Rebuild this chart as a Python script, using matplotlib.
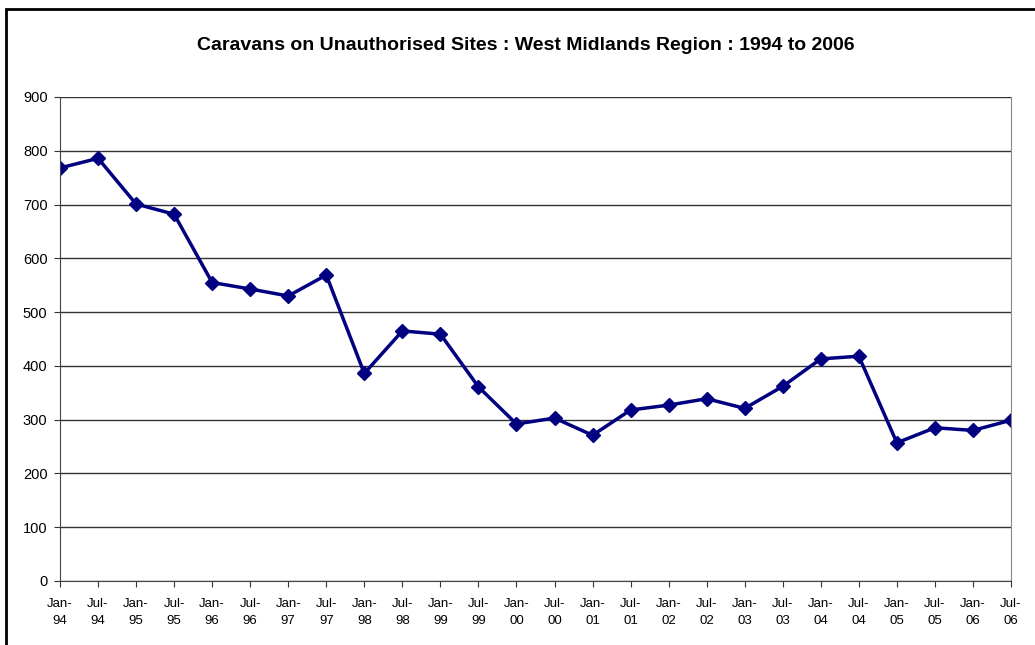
import matplotlib.pyplot as plt
from matplotlib.patches import Rectangle

plt.rcParams['font.family'] = ['Liberation Sans', 'DejaVu Sans']

# Survey dates (January and July counts)
labels = ['Jan-\n94', 'Jul-\n94', 'Jan-\n95', 'Jul-\n95', 'Jan-\n96', 'Jul-\n96',
          'Jan-\n97', 'Jul-\n97', 'Jan-\n98', 'Jul-\n98', 'Jan-\n99', 'Jul-\n99',
          'Jan-\n00', 'Jul-\n00', 'Jan-\n01', 'Jul-\n01', 'Jan-\n02', 'Jul-\n02',
          'Jan-\n03', 'Jul-\n03', 'Jan-\n04', 'Jul-\n04', 'Jan-\n05', 'Jul-\n05',
          'Jan-\n06', 'Jul-\n06']
caravans = [768, 786, 701, 682, 555, 543, 530, 569, 386, 465, 459, 361,
            292, 303, 271, 318, 327, 339, 321, 362, 413, 418, 257, 285,
            280, 299]
yticks = [0, 100, 200, 300, 400, 500, 600, 700, 800, 900]

fig = plt.figure(figsize=(10.35, 6.45), dpi=100)
ax = fig.add_axes([60 / 1035, 64 / 645, 951 / 1035, 484 / 645])

# outer chart border
fig.patches.append(Rectangle((6 / 1035, -0.1), 1.2, (645 - 9) / 645 + 0.1,
                             transform=fig.transFigure, fill=False,
                             edgecolor='black', linewidth=2))

x = list(range(len(caravans)))
ax.plot(x, caravans, color='#000080', linewidth=2.5, marker='D',
        markersize=7, markerfacecolor='#000080', markeredgecolor='#000080')

ax.set_xlim(0, len(caravans) - 1)
ax.set_ylim(0, 900)
ax.set_yticks(yticks)
ax.set_xticks(x)
ax.set_xticklabels(labels, fontsize=9.5)
ax.tick_params(axis='y', labelsize=10.5, direction='out', length=4, color='#333333', pad=5)
ax.tick_params(axis='x', direction='out', length=4, color='#333333', pad=8)
for lbl in ax.get_xticklabels():
    lbl.set_linespacing(1.55)

ax.grid(axis='y', color='#333333', linewidth=1)
ax.set_axisbelow(True)
ax.spines['top'].set_visible(False)
ax.spines['right'].set_color('#888888')
ax.spines['left'].set_color('#444444')
ax.spines['bottom'].set_color('#444444')

fig.text(526 / 1035, 1 - 45 / 645,
         'Caravans on Unauthorised Sites : West Midlands Region : 1994 to 2006',
         ha='center', va='center', fontsize=14, fontweight='bold')

fig.savefig('out.png', dpi=100, facecolor='white')
